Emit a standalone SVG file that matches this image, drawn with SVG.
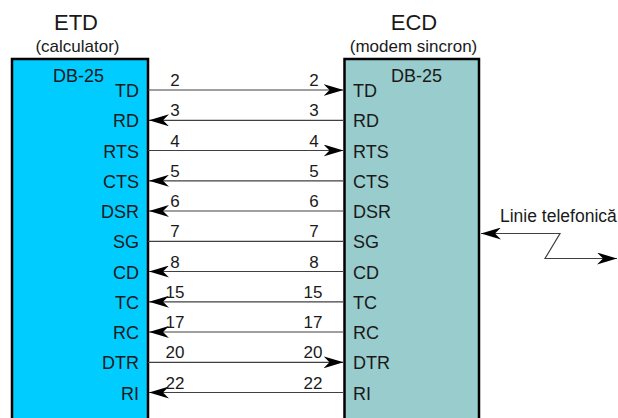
<svg xmlns="http://www.w3.org/2000/svg" width="618" height="418" viewBox="0 0 618 418">
<style>
text{font-family:"Liberation Sans",Arial,sans-serif;fill:#1a1a1a}
.hd{font-size:22px;text-anchor:middle}
.sub{font-size:17px;text-anchor:middle}
.pin{font-size:18px}
.pl{text-anchor:end}
.num{font-size:17px;text-anchor:middle}
.box{stroke:#000;stroke-width:2.5}
.w{stroke:#404040;stroke-width:1.2;fill:none}
</style>
<defs>
<marker id="ar" viewBox="-20 -6 20 12" refX="0" refY="0" markerWidth="20" markerHeight="12" markerUnits="userSpaceOnUse" orient="auto-start-reverse">
<path d="M0,0 L-20,-6 L-14,0 L-20,6 Z" fill="#000"/>
</marker>
</defs>
<rect width="618" height="418" fill="#fff"/>
<g id="etd">
<text class="hd" x="76" y="30">ETD</text>
<text class="sub" x="77.5" y="52">(calculator)</text>
<rect class="box" x="12" y="59" width="136" height="370" fill="#00CCFF"/>
<text class="pin" x="53" y="82">DB-25</text>
<g class="pin pl">
<text x="139" y="97">TD</text>
<text x="139" y="127.3">RD</text>
<text x="139" y="157.5">RTS</text>
<text x="139" y="187.8">CTS</text>
<text x="139" y="218">DSR</text>
<text x="139" y="248.3">SG</text>
<text x="139" y="278.5">CD</text>
<text x="139" y="308.8">TC</text>
<text x="139" y="339">RC</text>
<text x="139" y="369.3">DTR</text>
<text x="139" y="399.5">RI</text>
</g>
</g>
<g id="ecd">
<text class="hd" x="414" y="30">ECD</text>
<text class="sub" x="413.5" y="52">(modem sincron)</text>
<rect class="box" x="344.5" y="59" width="134.5" height="370" fill="#99CCCC"/>
<text class="pin" x="391" y="82">DB-25</text>
<g class="pin">
<text x="353" y="97">TD</text>
<text x="353" y="127.3">RD</text>
<text x="353" y="157.5">RTS</text>
<text x="353" y="187.8">CTS</text>
<text x="353" y="218">DSR</text>
<text x="353" y="248.3">SG</text>
<text x="353" y="278.5">CD</text>
<text x="353" y="308.8">TC</text>
<text x="353" y="339">RC</text>
<text x="353" y="369.3">DTR</text>
<text x="353" y="399.5">RI</text>
</g>
</g>
<g id="phone">
<text x="500" y="221.5" style="font-size:17.5px">Linie telefonică</text>
</g>
<g id="connectors">
<line class="w" x1="148" y1="90" x2="343.5" y2="90" marker-end="url(#ar)"/>
<line class="w" x1="149" y1="120.3" x2="344" y2="120.3" marker-start="url(#ar)"/>
<line class="w" x1="148" y1="150.5" x2="343.5" y2="150.5" marker-end="url(#ar)"/>
<line class="w" x1="149" y1="180.8" x2="344" y2="180.8" marker-start="url(#ar)"/>
<line class="w" x1="149" y1="211" x2="344" y2="211" marker-start="url(#ar)"/>
<line class="w" x1="148" y1="241.3" x2="344" y2="241.3"/>
<line class="w" x1="149" y1="271.5" x2="344" y2="271.5" marker-start="url(#ar)"/>
<line class="w" x1="149" y1="301.8" x2="344" y2="301.8" marker-start="url(#ar)"/>
<line class="w" x1="149" y1="332" x2="344" y2="332" marker-start="url(#ar)"/>
<line class="w" x1="148" y1="362.3" x2="343.5" y2="362.3" marker-end="url(#ar)"/>
<line class="w" x1="149" y1="392.5" x2="344" y2="392.5" marker-start="url(#ar)"/>
<polyline class="w" points="481,233.5 560,233.5 545,258.5 617,258.5" marker-start="url(#ar)" marker-end="url(#ar)"/>
<g class="num">
<text x="175" y="86">2</text><text x="314" y="86">2</text>
<text x="175" y="116.3">3</text><text x="314" y="116.3">3</text>
<text x="175" y="146.5">4</text><text x="314" y="146.5">4</text>
<text x="175" y="176.8">5</text><text x="314" y="176.8">5</text>
<text x="175" y="207">6</text><text x="314" y="207">6</text>
<text x="175" y="237.3">7</text><text x="314" y="237.3">7</text>
<text x="175" y="267.5">8</text><text x="314" y="267.5">8</text>
<text x="175" y="297.8">15</text><text x="313" y="297.8">15</text>
<text x="175" y="328">17</text><text x="313" y="328">17</text>
<text x="175" y="358.3">20</text><text x="313" y="358.3">20</text>
<text x="175" y="388.5">22</text><text x="313" y="388.5">22</text>
</g>
</g>
</svg>
